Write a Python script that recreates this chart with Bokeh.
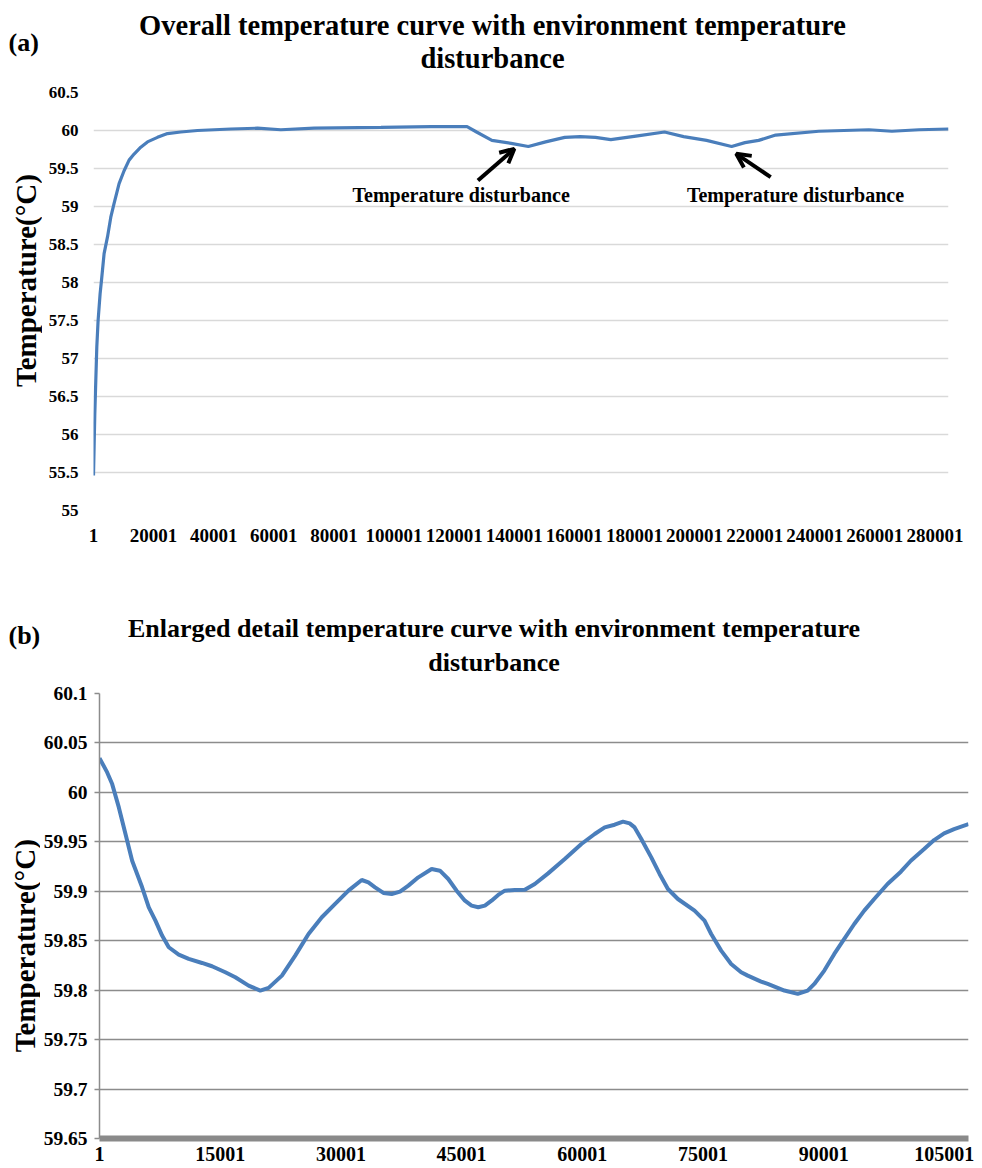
import math
from bokeh.plotting import figure
from bokeh.models import FixedTicker, Label, Arrow, OpenHead, Range1d
from bokeh.layouts import row
from bokeh.embed import file_html
from bokeh.resources import INLINE

# ---------------- data: panel (a) ----------------
a_index = [1, 201, 433, 766, 1099, 1531, 2196, 2662, 3527, 4657, 5755, 6853,
           8516, 10179, 11842, 13504, 15733, 17961, 21287, 24613, 29037, 34591,
           45668, 54568, 62334, 73434, 95668, 112334, 124301, 127468, 132568,
           138968, 144701, 150434, 156801, 161934, 167034, 172134, 181068,
           190001, 196368, 204001, 212334, 216768, 221334, 227001, 241334,
           258001, 265668, 274668, 284500]
a_temp = [55.46, 55.83, 56.27, 56.71, 57.15, 57.50, 57.85, 58.03, 58.38, 58.60,
          58.86, 59.04, 59.30, 59.47, 59.61, 59.69, 59.78, 59.85, 59.91, 59.96,
          59.98, 60.00, 60.02, 60.03, 60.01, 60.03, 60.04, 60.05, 60.05, 59.98,
          59.87, 59.83, 59.79, 59.85, 59.91, 59.92, 59.91, 59.88, 59.93, 59.98,
          59.92, 59.87, 59.79, 59.84, 59.87, 59.94, 59.99, 60.01, 59.99, 60.01,
          60.02]
a_xticks = [1, 20001, 40001, 60001, 80001, 100001, 120001, 140001, 160001,
            180001, 200001, 220001, 240001, 260001, 280001]
a_xtick_labels = ["1", "20001", "40001", "60001", "80001", "100001", "120001",
                  "140001", "160001", "180001", "200001", "220001", "240001",
                  "260001", "280001"]
a_yticks = [55.0, 55.5, 56.0, 56.5, 57.0, 57.5, 58.0, 58.5, 59.0, 59.5, 60.0, 60.5]
a_ytick_labels = ["55", "55.5", "56", "56.5", "57", "57.5", "58", "58.5", "59",
                  "59.5", "60", "60.5"]

# ---------------- data: panel (b) ----------------
b_index = [1, 956, 1577, 2404, 3231, 4058, 5299, 6126, 6953, 7780, 8608, 9848,
           11089, 12743, 13984, 15638, 16878, 18533, 19980, 21015, 22669,
           24323, 25978, 27632, 29286, 30940, 32594, 33422, 34248, 35283,
           36316, 37350, 38384, 39625, 41279, 42312, 43347, 44381, 45415,
           46242, 47070, 47896, 48723, 49552, 50377, 51618, 52859, 54099,
           55755, 57822, 59891, 61546, 62786, 64025, 65061, 65888, 66507,
           67335, 68575, 69609, 70644, 71885, 73953, 75194, 76021, 77261,
           78502, 79743, 80569, 82223, 83051, 85118, 86773, 88014, 88840,
           90080, 91321, 92562, 93803, 95044, 96284, 97939, 99594, 100834,
           102489, 103729, 104970, 106211, 108000]
b_temp = [60.0347, 60.0202, 60.0084, 59.9848, 59.9579, 59.9309, 59.9040,
          59.8838, 59.8703, 59.8552, 59.8434, 59.8360, 59.8316, 59.8275,
          59.8242, 59.8181, 59.8130, 59.8046, 59.7996, 59.8023, 59.8147,
          59.8349, 59.8568, 59.8737, 59.8872, 59.9006, 59.9114, 59.9090,
          59.9040, 59.8983, 59.8973, 59.8996, 59.9057, 59.9141, 59.9225,
          59.9208, 59.9124, 59.9006, 59.8905, 59.8855, 59.8838, 59.8855,
          59.8905, 59.8963, 59.9006, 59.9013, 59.9016, 59.9074, 59.9181,
          59.9326, 59.9478, 59.9579, 59.9646, 59.9673, 59.9704, 59.9687,
          59.9646, 59.9528, 59.9343, 59.9175, 59.9023, 59.8922, 59.8804,
          59.8703, 59.8568, 59.8400, 59.8265, 59.8181, 59.8147, 59.8087,
          59.8063, 59.7996, 59.7962, 59.7996, 59.8063, 59.8198, 59.8366,
          59.8518, 59.8669, 59.8804, 59.8922, 59.9074, 59.9198, 59.9309,
          59.9427, 59.9518, 59.9586, 59.9629, 59.9680]
b_xticks = [1, 15001, 30001, 45001, 60001, 75001, 90001, 105001]
b_xtick_labels = ["1", "15001", "30001", "45001", "60001", "75001", "90001", "105001"]
b_yticks = [59.65, 59.7, 59.75, 59.8, 59.85, 59.9, 59.95, 60.0, 60.05, 60.1]
b_ytick_labels = ["59.65", "59.7", "59.75", "59.8", "59.85", "59.9", "59.95",
                  "60", "60.05", "60.1"]

title_a = ["Overall temperature curve with environment temperature", "disturbance"]
title_b = ["Enlarged detail temperature curve with environment temperature", "disturbance"]
ylabel = "Temperature(°C)"
annot = "Temperature disturbance"

FONT = "Liberation Serif"
LINE = "#4a7ebb"
W = 982


def label(p, x, y, text, size, angle=0.0, align="center"):
    p.add_layout(Label(x=x, y=y, text=text, text_font=FONT, text_font_style="bold",
                       text_font_size=f"{size}px", text_align=align,
                       text_baseline="middle", angle=angle, text_color="black"))


def blank(width, height, xr, yr, **borders):
    f = figure(width=width, height=height, x_range=xr, y_range=yr,
               output_backend="svg", toolbar_location=None,
               x_axis_type=None, y_axis_type=None, **borders)
    f.outline_line_color = None
    return f


def header(height, lines, tag, size, cx, y1, y2, ytag):
    f = blank(W, height, Range1d(0, W), Range1d(height, 0), min_border=0)
    label(f, cx, y1, lines[0], size)
    label(f, cx, y2, lines[1], size)
    label(f, 8, ytag, tag, 26, align="left")
    return f


def style_axes(p, xsize, ysize):
    for ax in (p.xaxis[0], p.yaxis[0]):
        ax.major_label_text_font = FONT
        ax.major_label_text_font_style = "bold"
        ax.major_label_text_color = "black"
        ax.minor_tick_line_color = None
        ax.minor_tick_out = 0
        ax.minor_tick_in = 0
    p.xaxis.major_label_text_font_size = f"{xsize}px"
    p.yaxis.major_label_text_font_size = f"{ysize}px"


# ================= panel (a) =================
HA_HEAD = 80
HA = 495
SIDE_A = 42
head_a = header(HA_HEAD, title_a, "(a)", 28.5, 492, 25, 58, 42)

side_a = blank(SIDE_A, HA, Range1d(0, SIDE_A), Range1d(55, 60.5),
               min_border_left=0, min_border_right=0,
               min_border_top=12, min_border_bottom=65)
label(side_a, 25, 58.026, ylabel, 29, angle=math.pi / 2)

pa = figure(width=W - SIDE_A, height=HA, output_backend="svg", toolbar_location=None,
            x_range=Range1d(1, 284500), y_range=Range1d(55, 60.5),
            min_border_left=93 - SIDE_A, min_border_right=34, min_border_top=12,
            min_border_bottom=65)
pa.outline_line_color = None
pa.line(a_index, a_temp, line_color=LINE, line_width=3.2)
pa.xaxis.ticker = FixedTicker(ticks=a_xticks)
pa.xaxis.major_label_overrides = dict(zip(a_xticks, a_xtick_labels))
pa.yaxis.ticker = FixedTicker(ticks=a_yticks)
pa.yaxis.major_label_overrides = dict(zip(a_yticks, a_ytick_labels))
style_axes(pa, 19, 17)
for ax in (pa.xaxis[0], pa.yaxis[0]):
    ax.axis_line_color = None
    ax.major_tick_line_color = None
    ax.major_tick_out = 0
    ax.major_tick_in = 0
pa.xaxis.major_label_standoff = 18
pa.yaxis.major_label_standoff = 15
pa.xgrid.grid_line_color = None
pa.ygrid.grid_line_color = "#d9d9d9"
pa.ygrid.grid_line_width = 1.5

label(pa, 122340, 59.145, annot, 20)
label(pa, 233590, 59.145, annot, 20)
for xs, ys, xe, ye in [(127920, 59.342, 140028, 59.759), (225330, 59.386, 213870, 59.693)]:
    pa.add_layout(Arrow(end=OpenHead(line_width=4, size=14, line_color="black"),
                        x_start=xs, y_start=ys, x_end=xe, y_end=ye,
                        line_width=4, line_color="black"))

# ================= panel (b) =================
HB_HEAD = 105
HB = 488
SIDE_B = 40
head_b = header(HB_HEAD, title_b, "(b)", 26, 493.5, 53, 87, 60)

side_b = blank(SIDE_B, HB, Range1d(0, SIDE_B), Range1d(59.65, 60.1),
               min_border_left=0, min_border_right=0,
               min_border_top=13, min_border_bottom=30)
label(side_b, 24, 59.845, ylabel, 29, angle=math.pi / 2)

pb = figure(width=W - SIDE_B, height=HB, output_backend="svg", toolbar_location=None,
            x_range=Range1d(1, 108000), y_range=Range1d(59.65, 60.1),
            min_border_left=97 - SIDE_B, min_border_right=14, min_border_top=13,
            min_border_bottom=30)
pb.outline_line_color = None
pb.line(b_index, b_temp, line_color=LINE, line_width=4)
pb.xaxis.ticker = FixedTicker(ticks=b_xticks)
pb.xaxis.major_label_overrides = dict(zip(b_xticks, b_xtick_labels))
pb.yaxis.ticker = FixedTicker(ticks=b_yticks)
pb.yaxis.major_label_overrides = dict(zip(b_yticks, b_ytick_labels))
style_axes(pb, 20, 19.5)
pb.xaxis.axis_line_color = "#8a8a8a"
pb.xaxis.axis_line_width = 6
pb.xaxis.major_tick_line_color = None
pb.xaxis.major_tick_out = 0
pb.xaxis.major_tick_in = 0
pb.xaxis.major_label_standoff = 8
pb.yaxis.axis_line_color = "#8c8c8c"
pb.yaxis.axis_line_width = 1.5
pb.yaxis.major_tick_line_color = "#8c8c8c"
pb.yaxis.major_tick_line_width = 1.5
pb.yaxis.major_tick_out = 5
pb.yaxis.major_tick_in = 0
pb.yaxis.major_label_standoff = 7
pb.xgrid.grid_line_color = None
pb.ygrid.grid_line_color = "#8c8c8c"
pb.ygrid.grid_line_width = 1.5

roots = [head_a, row(side_a, pa, spacing=0), head_b, row(side_b, pb, spacing=0)]
open("out.html", "w").write(file_html(roots, INLINE))
